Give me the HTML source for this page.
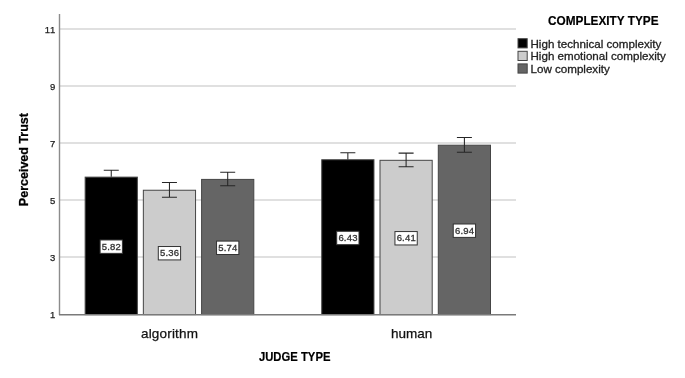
<!DOCTYPE html>
<html><head><meta charset="utf-8"><style>
html,body{margin:0;padding:0;background:#fff;width:685px;height:378px;overflow:hidden}
svg{display:block;filter:blur(0.45px)}
text{font-family:"Liberation Sans",sans-serif;fill:#222}
.tk{font-size:9.5px;fill:#222;stroke:#222;stroke-width:0.25px;letter-spacing:0.8px}
.vl{font-size:9.5px;fill:#333;stroke:#333;stroke-width:0.3px;letter-spacing:0.2px}
.lg{font-size:11.6px;fill:#222;stroke:#222;stroke-width:0.3px}
.cat{font-size:13.5px;fill:#111;stroke:#111;stroke-width:0.25px}
.ttl{font-size:13.6px;font-weight:bold;fill:#000;stroke:#000;stroke-width:0.2px}
.jt{font-size:13.6px;font-weight:bold;fill:#000;stroke:#000;stroke-width:0.2px}
.pt{font-size:12.5px;font-weight:bold;fill:#000;stroke:#000;stroke-width:0.25px}
</style></head><body>
<svg width="685" height="378" viewBox="0 0 685 378">
<rect width="685" height="378" fill="#fff"/>
<line x1="60" y1="29.00" x2="516" y2="29.00" stroke="#e0e0e0" stroke-width="2"/>
<line x1="60" y1="86.00" x2="516" y2="86.00" stroke="#e0e0e0" stroke-width="2"/>
<line x1="60" y1="143.00" x2="516" y2="143.00" stroke="#e0e0e0" stroke-width="2"/>
<line x1="60" y1="200.00" x2="516" y2="200.00" stroke="#e0e0e0" stroke-width="2"/>
<line x1="60" y1="257.00" x2="516" y2="257.00" stroke="#e0e0e0" stroke-width="2"/>
<rect x="85.15" y="177.13" width="52.20" height="137.47" fill="#000000" stroke="#454545" stroke-width="1"/>
<rect x="143.35" y="190.24" width="52.20" height="124.36" fill="#cccccc" stroke="#454545" stroke-width="1"/>
<rect x="201.60" y="179.41" width="52.20" height="135.19" fill="#656565" stroke="#454545" stroke-width="1"/>
<rect x="321.75" y="159.75" width="52.20" height="154.86" fill="#000000" stroke="#454545" stroke-width="1"/>
<rect x="380.00" y="160.31" width="52.20" height="154.29" fill="#cccccc" stroke="#454545" stroke-width="1"/>
<rect x="438.30" y="145.21" width="52.20" height="169.39" fill="#656565" stroke="#454545" stroke-width="1"/>
<path d="M111.25 170.18V176.78M103.75 170.18H118.75" stroke="#262626" stroke-width="1.05" fill="none"/>
<path d="M169.45 182.54V197.24M161.95 182.54H176.95M161.95 197.24H176.95" stroke="#262626" stroke-width="1.05" fill="none"/>
<path d="M227.70 172.31V185.81M220.20 172.31H235.20M220.20 185.81H235.20" stroke="#262626" stroke-width="1.05" fill="none"/>
<path d="M347.85 152.65V159.40M340.35 152.65H355.35" stroke="#262626" stroke-width="1.05" fill="none"/>
<path d="M406.10 153.12V166.81M398.60 153.12H413.60M398.60 166.81H413.60" stroke="#262626" stroke-width="1.05" fill="none"/>
<path d="M464.40 137.51V152.21M456.90 137.51H471.90M456.90 152.21H471.90" stroke="#262626" stroke-width="1.05" fill="none"/>
<line x1="59.5" y1="14" x2="59.5" y2="315" stroke="#8c8c8c" stroke-width="1.4"/>
<line x1="59" y1="314.7" x2="516" y2="314.7" stroke="#7a7a7a" stroke-width="1.4"/>
<rect x="100.10" y="239.97" width="22.3" height="13.4" fill="#fff" stroke="#333" stroke-width="1"/>
<text x="111.45" y="249.62" text-anchor="middle" class="vl">5.82</text>
<rect x="158.30" y="246.52" width="22.3" height="13.4" fill="#fff" stroke="#333" stroke-width="1"/>
<text x="169.65" y="256.17" text-anchor="middle" class="vl">5.36</text>
<rect x="216.55" y="241.10" width="22.3" height="13.4" fill="#fff" stroke="#333" stroke-width="1"/>
<text x="227.90" y="250.75" text-anchor="middle" class="vl">5.74</text>
<rect x="336.70" y="231.27" width="22.3" height="13.4" fill="#fff" stroke="#333" stroke-width="1"/>
<text x="348.05" y="240.92" text-anchor="middle" class="vl">6.43</text>
<rect x="394.95" y="231.56" width="22.3" height="13.4" fill="#fff" stroke="#333" stroke-width="1"/>
<text x="406.30" y="241.21" text-anchor="middle" class="vl">6.41</text>
<rect x="453.25" y="224.00" width="22.3" height="13.4" fill="#fff" stroke="#333" stroke-width="1"/>
<text x="464.60" y="233.66" text-anchor="middle" class="vl">6.94</text>
<text x="56.2" y="33.40" text-anchor="end" class="tk">11</text>
<text x="56.2" y="90.40" text-anchor="end" class="tk">9</text>
<text x="56.2" y="147.40" text-anchor="end" class="tk">7</text>
<text x="56.2" y="204.40" text-anchor="end" class="tk">5</text>
<text x="56.2" y="261.40" text-anchor="end" class="tk">3</text>
<text x="56.2" y="318.40" text-anchor="end" class="tk">1</text>
<rect x="518.0" y="38.70" width="9.2" height="9.2" fill="#000000" stroke="#454545" stroke-width="1"/>
<rect x="518.0" y="51.30" width="9.2" height="9.2" fill="#cccccc" stroke="#454545" stroke-width="1"/>
<rect x="518.0" y="63.90" width="9.2" height="9.2" fill="#656565" stroke="#454545" stroke-width="1"/>
<text x="530.5" y="47.60" class="lg">High technical complexity</text>
<text x="530.5" y="60.20" class="lg">High emotional complexity</text>
<text x="530.5" y="72.80" class="lg">Low complexity</text>
<text x="603.3" y="25.0" text-anchor="middle" class="ttl" textLength="110.5" lengthAdjust="spacingAndGlyphs">COMPLEXITY TYPE</text>
<text x="169.5" y="338.1" text-anchor="middle" class="cat" textLength="57" lengthAdjust="spacing">algorithm</text>
<text x="411.6" y="338.1" text-anchor="middle" class="cat" textLength="41.2" lengthAdjust="spacing">human</text>
<text x="294.7" y="360.7" text-anchor="middle" class="jt" textLength="71.5" lengthAdjust="spacingAndGlyphs">JUDGE TYPE</text>
<text transform="translate(27.7,159.6) rotate(-90)" text-anchor="middle" class="pt">Perceived Trust</text>
</svg>
</body></html>
